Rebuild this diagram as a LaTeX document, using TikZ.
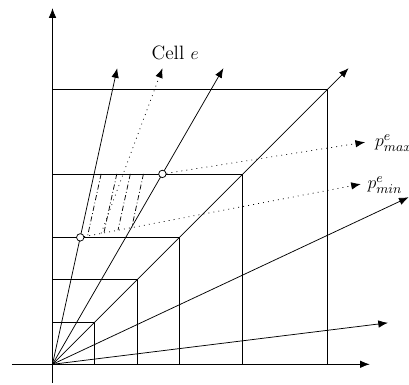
\documentclass[tikz,border=0pt]{standalone}
\usetikzlibrary{arrows.meta}
\begin{document}
\begin{tikzpicture}[x=1cm,y=1cm,
  line width=0.5pt,
  arr/.style={-{Latex[length=6.5pt,width=5pt]}},
  dotline/.style={dash pattern=on 0.6pt off 2.8pt},
  dashdot/.style={dash pattern=on 3.5pt off 1.6pt on 0.6pt off 1.6pt},
  pt/.style={circle,draw,fill=white,inner sep=0pt,minimum size=5pt,line width=0.5pt},
  lbl/.style={font=\fontsize{13}{15}\selectfont,inner sep=0pt}]
\useasboundingbox (-1.241,-0.489) rectangle (8.428,8.612);
% coordinates
\coordinate (O) at (0,0);
\coordinate (xs) at (-0.96,0);
\coordinate (xe) at (7.5,0);
\coordinate (ys) at (0,-0.44);
\coordinate (ye) at (0,8.42);
% squares
\foreach \s in {1,2,3,4.5,6.5}{
  \draw (0,\s) -- (\s,\s) -- (\s,0);
}
% axes
\draw[arr] (xs) -- (xe);
\draw[arr] (ys) -- (ye);
% rays
\coordinate (r1) at (1.53,7);
\coordinate (r3) at (4.04,7);
\coordinate (r4) at (7,7);
\coordinate (r5) at (8.42,3.95);
\coordinate (r6) at (7.93,0.98);
\draw[arr] (O) -- (r1);
\draw[arr] (O) -- (r3);
\draw[arr] (O) -- (r4);
\draw[arr] (O) -- (r5);
\draw[arr] (O) -- (r6);
% cell dash-dot lines
\coordinate (a1) at (1.15,4.5); \coordinate (b1) at (0.829,3.033);
\coordinate (a2) at (1.52,4.5); \coordinate (b2) at (1.215,3.106);
\coordinate (a3) at (1.84,4.5); \coordinate (b3) at (1.549,3.170);
\coordinate (a4) at (2.15,4.5); \coordinate (b4) at (1.873,3.231);
\draw[dashdot] (a1) -- (b1);
\draw[dashdot] (a2) -- (b2);
\draw[dashdot] (a3) -- (b3);
\draw[dashdot] (a4) -- (b4);
% Cell e dotted ray
\coordinate (cs) at (1.149,3.094);
\coordinate (ce) at (2.60,7);
\draw[arr,dotline] (cs) -- (ce);
\node[lbl] (cell) at (2.90,7.36) {Cell $e$};
% points
\node[pt] (pmin) at (0.656,3) {};
\node[pt] (pmax) at (2.598,4.5) {};
\coordinate (tmin) at (7.29,4.26);
\coordinate (tmax) at (7.39,5.25);
\draw[arr,dotline] (pmin) -- (tmin);
\draw[arr,dotline] (pmax) -- (tmax);
\node[lbl,anchor=west] (lmin) at (7.44,4.24) {$p^e_{min}$};
\node[lbl,anchor=west] (lmax) at (7.62,5.23) {$p^e_{max}$};
\end{tikzpicture}
\end{document}
